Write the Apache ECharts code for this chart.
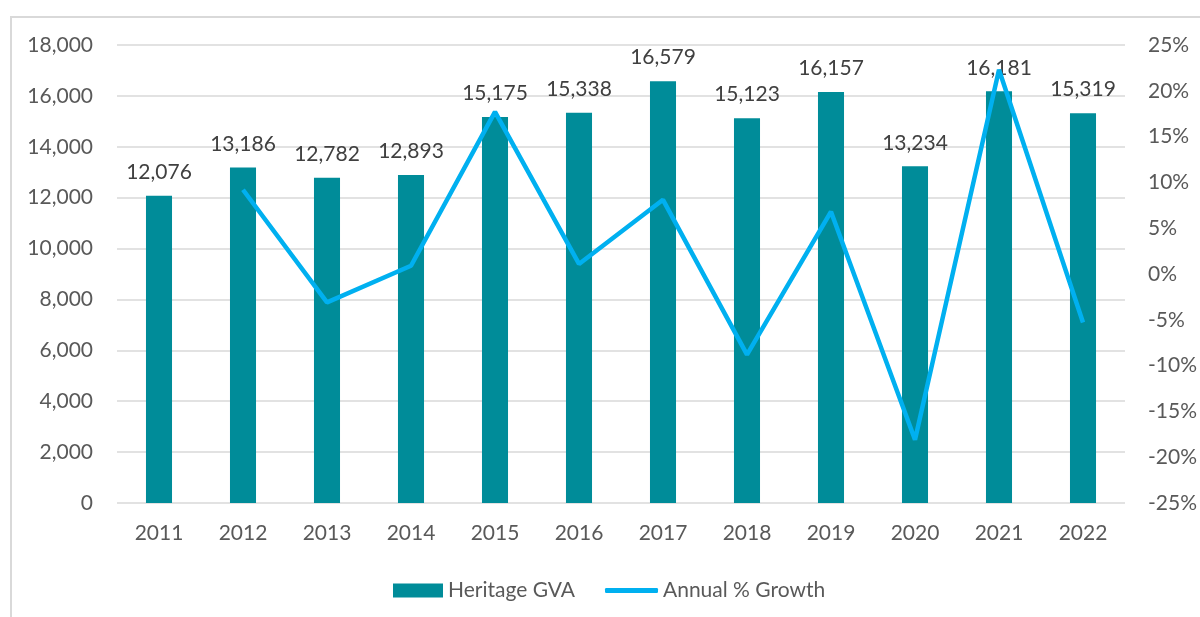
<!DOCTYPE html>
<html><head><meta charset="utf-8">
<script src="https://cdn.jsdelivr.net/npm/echarts@6/dist/echarts.min.js"></script>
<style>html,body{margin:0;padding:0;background:#fff}#frame{position:absolute;left:10px;top:16px;width:1300px;height:700px;border-left:2px solid #d9d9d9;border-top:2px solid #d9d9d9;box-sizing:border-box}#c{position:absolute;left:0;top:0;width:1200px;height:617px}</style>
</head><body>
<div id="frame"></div>
<div id="c"></div>
<script>
const years = ['2011','2012','2013','2014','2015','2016','2017','2018','2019','2020','2021','2022'];
const heritageGVA = [12076,13186,12782,12893,15175,15338,16579,15123,16157,13234,16181,15319];
const annualGrowth = [null,9.2,-3.1,0.9,17.7,1.1,8.1,-8.8,6.8,-18.1,22.3,-5.3];
const leftTicks = {min:0, max:18000, interval:2000};
const rightTicks = {min:-25, max:25, interval:5};

const FONT = 'Lato, "Noto Sans", sans-serif';
const FS = 21;
const chart = echarts.init(document.getElementById('c'));
chart.setOption({
  animation:false,
  textStyle:{fontFamily:FONT},
  grid:{left:117, right:75, top:45, bottom:114},
  legend:[
    {left:388, top:575, itemWidth:50, itemHeight:14, itemGap:6,
     textStyle:{fontFamily:FONT, fontSize:FS, color:'#595959'},
     data:[{name:'Heritage GVA', icon:'rect'}]},
    {left:600, top:575, itemWidth:53, itemHeight:5, itemGap:4,
     textStyle:{fontFamily:FONT, fontSize:FS, color:'#595959'},
     data:[{name:'Annual % Growth', icon:'roundRect', itemStyle:{color:'#00B0F0'}}]}
  ],
  xAxis:{
    type:'category', data:years,
    axisLine:{show:false}, axisTick:{show:false},
    axisLabel:{fontFamily:FONT, fontSize:FS, color:'#595959', margin:20}
  },
  yAxis:[
    {type:'value', min:leftTicks.min, max:leftTicks.max, interval:leftTicks.interval,
     axisLabel:{fontFamily:FONT, fontSize:FS, color:'#595959', margin:24, align:'right',
       formatter:v=>v.toLocaleString('en-US')},
     splitLine:{lineStyle:{color:'#d9d9d9', width:1.5}},
     axisLine:{show:false}, axisTick:{show:false}},
    {type:'value', min:rightTicks.min, max:rightTicks.max, interval:rightTicks.interval,
     axisLabel:{fontFamily:FONT, fontSize:FS, color:'#595959', margin:23, align:'left', formatter:'{value}%'},
     splitLine:{show:false}, axisLine:{show:false}, axisTick:{show:false}}
  ],
  series:[
    {name:'Heritage GVA', type:'bar', data:heritageGVA, barWidth:'31%',
     itemStyle:{color:'#008C99'},
     label:{show:true, position:'top', distance:13, fontFamily:FONT, fontSize:FS, color:'#404040',
       formatter:p=>p.value.toLocaleString('en-US')}},
    {name:'Annual % Growth', type:'line', yAxisIndex:1, data:annualGrowth,
     symbol:'none', lineStyle:{color:'#00B0F0', width:4.5}, itemStyle:{color:'#00B0F0'}, z:3}
  ]
});
</script>
</body></html>
